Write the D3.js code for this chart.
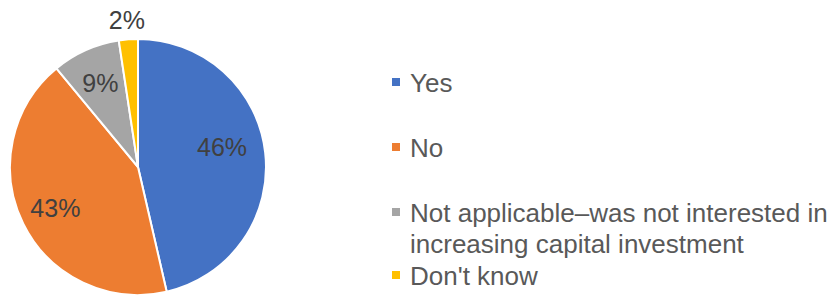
<!DOCTYPE html>
<html><head><meta charset="utf-8">
<script src="https://cdn.jsdelivr.net/npm/d3@7"></script>
<style>body{margin:0;background:#fff}svg{display:block}</style>
</head><body>
<script>
const categories = ["Yes", "No", "Not applicable–was not interested in increasing capital investment", "Don't know"];
const values = [46.4, 42.6, 8.6, 2.4];
const colors = ["#4472C4", "#ED7D31", "#A5A5A5", "#FFC000"];
const legendLines = [["Yes"], ["No"], ["Not applicable–was not interested in", "increasing capital investment"], ["Don't know"]];

const W = 838, H = 297;
const svg = d3.select("body").append("svg").attr("width", W).attr("height", H);
const cx = 138, cy = 167, R = 128;
const data = categories.map((c, i) => ({c, v: values[i], color: colors[i]}));
const pie = d3.pie().value(d => d.v).sort(null);
const arcs = pie(data);
const arc = d3.arc().innerRadius(0).outerRadius(R);
const g = svg.append("g").attr("transform", `translate(${cx},${cy})`);
g.selectAll("path").data(arcs).join("path")
  .attr("d", arc).attr("fill", d => d.data.color)
  .attr("stroke", "#fff").attr("stroke-width", 2).attr("stroke-linejoin", "round");

const total = d3.sum(values);
g.selectAll("text").data(arcs).join("text")
  .attr("transform", (d, i) => {
    let a = (d.startAngle + d.endAngle) / 2;
    let r = R * 0.72;
    if (i === 0) { a -= 0.12; r = R * 0.675; }
    if (i === 3) { r = R * 1.15; }
    return `translate(${Math.sin(a) * r},${-Math.cos(a) * r})`;
  })
  .attr("text-anchor", "middle").attr("dy", "0.36em")
  .attr("font-family", "Liberation Sans, Arial, sans-serif").attr("font-size", 25)
  .attr("fill", "#404040")
  .text(d => Math.round(d.data.v / total * 100) + "%");

const legX = 392, textX = 410;
const baselines = [92, 157, 222, 285];
const leg = svg.append("g");
legendLines.forEach((lines, i) => {
  const b = baselines[i];
  leg.append("rect").attr("x", legX).attr("y", b - 14).attr("width", 8).attr("height", 8).attr("fill", colors[i]);
  const t = leg.append("text").attr("x", textX).attr("y", b)
    .attr("font-family", "Liberation Sans, Arial, sans-serif").attr("font-size", 26).attr("fill", "#595959");
  lines.forEach((ln, j) => {
    t.append("tspan").attr("x", textX).attr("dy", j === 0 ? 0 : 31).text(ln);
  });
});
</script>
</body></html>
